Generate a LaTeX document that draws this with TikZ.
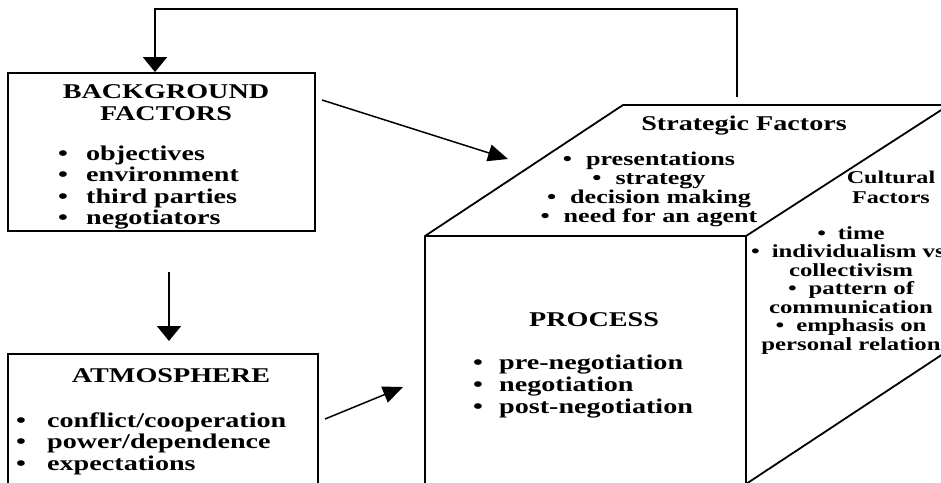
\documentclass[tikz,border=0pt]{standalone}
\usepackage{fontspec}
\setmainfont{Liberation Serif}[FakeStretch=1.34]
\usetikzlibrary{arrows.meta}
\newcommand\Cl[1]{\vtop{\lineskiplimit=-30pt\halign{\hfil##\hfil\cr#1\crcr}}}
\newcommand\Ll[1]{\vtop{\lineskiplimit=-30pt\halign{##\hfil\cr#1\crcr}}}
\newcommand\bu[1]{\makebox[#1][l]{•}}
\begin{document}
\begin{tikzpicture}[x=1pt,y=-1pt,
  frame/.style={draw, line width=1.8pt, line join=miter},
  conn/.style={draw, line width=1.5pt},
  vhead/.style={-{Triangle[length=15pt,width=24pt]}},
  dhead/.style={-{Triangle[length=20pt,width=17pt]}},
  txt/.style={inner sep=0pt, anchor=base},
  big/.style={txt, font=\bfseries\fontsize{21}{21.5}\selectfont},
  head/.style={txt, font=\bfseries\fontsize{21}{22}\selectfont},
  mid/.style={txt, font=\bfseries\fontsize{19.5}{19}\selectfont},
  small/.style={txt, font=\bfseries\fontsize{18.5}{18.5}\selectfont},
  chead/.style={txt, font=\bfseries\fontsize{18}{20}\selectfont}]
\useasboundingbox (0,0) rectangle (941,482);
\clip (0,0) rectangle (941,482);
\fill[white] (0,0) rectangle (941,482);

% boxes
\node[frame, minimum width=307pt, minimum height=158pt, inner sep=0pt] (bg) at (161.5,152) {};
\node[frame, minimum width=310pt, minimum height=146pt, inner sep=0pt] (atm) at (163,427) {};

% cube
\coordinate (A) at (425,236);
\coordinate (B) at (746,236);
\coordinate (C) at (949,105);
\coordinate (D) at (623,105);
\coordinate (E) at (746,484);
\coordinate (F) at (425,484);
\coordinate (G) at (949,350);
\draw[frame] (F) -- (A) -- (D) -- (C) -- (G) -- (E) -- cycle;
\draw[frame] (A) -- (B) -- (C);
\draw[frame] (B) -- (E);

% connectors
\coordinate (fbs) at (737,97);
\coordinate (fbc) at (155,9);
\draw[conn, vhead] (fbs) |- (fbc) -- (fbc |- bg.north);
\coordinate (p1) at (169,272);
\coordinate (p2) at (169,341);
\draw[conn, vhead] (p1) -- (p2);
\coordinate (q1) at (322,100);
\coordinate (q2) at (508,159);
\draw[conn, dhead] (q1) -- (q2);
\coordinate (r1) at (325,419);
\coordinate (r2) at (403,387);
\draw[conn, dhead] (r1) -- (r2);

% texts
\node[head] (bgh) at (166,98) {\Cl{BACKGROUND\cr FACTORS}};
\node[big, anchor=base west] (bgl) at (58,160) {\Ll{\bu{28pt}objectives\cr \bu{28pt}environment\cr \bu{28pt}third parties\cr \bu{28pt}negotiators}};
\node[big] (atmh) at (171,382) {ATMOSPHERE};
\node[big, anchor=base west] (atml) at (16,427) {\Ll{\bu{31pt}conflict/cooperation\cr \bu{31pt}power/dependence\cr \bu{31pt}expectations}};
\node[big] (proch) at (594,326) {PROCESS};
\node[big, font=\bfseries\fontsize{21}{22}\selectfont, anchor=base west] (procl) at (473,369) {\Ll{\bu{26pt}pre-negotiation\cr \bu{26pt}negotiation\cr \bu{26pt}post-negotiation}};
\node[big] (sth) at (744,130) {Strategic Factors};
\node[mid] (stl) at (649,165) {\Cl{•\hspace{14pt}presentations\cr •\hspace{14pt}strategy\cr •\hspace{14pt}decision making\cr •\hspace{14pt}need for an agent}};
\node[chead] (cuh) at (891,183) {\Cl{Cultural\cr Factors}};
\node[small] (cul) at (851,239) {\Cl{•\hspace{12pt}time\cr •\hspace{12pt}individualism vs.\cr collectivism\cr •\hspace{12pt}pattern of\cr communication\cr •\hspace{12pt}emphasis on\cr personal relation}};
\end{tikzpicture}
\end{document}
